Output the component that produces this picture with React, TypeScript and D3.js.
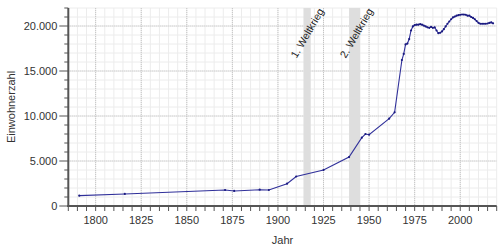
import React from "react";
import * as d3 from "d3";

const years: number[] = [
  1791, 1816, 1871, 1876, 1890, 1895, 1905, 1910, 1925, 1939, 1946, 1948, 1950,
  1961, 1964, 1968, 1969, 1970, 1971, 1972, 1973, 1974, 1975, 1976, 1977, 1978,
  1979, 1980, 1981, 1982, 1983, 1984, 1985, 1986, 1987, 1988, 1989, 1990, 1991,
  1992, 1993, 1994, 1995, 1996, 1997, 1998, 1999, 2000, 2001, 2002, 2003, 2004,
  2005, 2006, 2007, 2008, 2009, 2010, 2011, 2012, 2013, 2014, 2015, 2016, 2017,
  2018,
];
const population: number[] = [
  1150, 1340, 1780, 1670, 1810, 1780, 2480, 3280, 4000, 5440, 7590, 8000, 7920,
  9700, 10410, 16220, 16900, 17950, 18050, 18550, 19500, 19950, 20100, 20150,
  20150, 20200, 20150, 20050, 19950, 19850, 19800, 19900, 19800, 19850, 19500,
  19200, 19250, 19400, 19650, 19950, 20250, 20500, 20750, 20950, 21050, 21150,
  21200, 21250, 21280, 21270, 21250, 21150, 21150, 21000, 20900, 20750, 20550,
  20350, 20250, 20250, 20250, 20250, 20280, 20350, 20400, 20300,
];

const wars = [
  { label: "1. Weltkrieg", start: 1914, end: 1918 },
  { label: "2. Weltkrieg", start: 1939, end: 1945 },
];

const xMajorTicks = [1800, 1825, 1850, 1875, 1900, 1925, 1950, 1975, 2000];
const yMajorTicks = [0, 5000, 10000, 15000, 20000];

const W = 500;
const H = 250;
const left = 68.3;
const right = 496.7;
const top = 8;
const bottom = 206;

export default function App() {
  const x = d3.scaleLinear().domain([1785, 2020]).range([left, right]);
  const y = d3.scaleLinear().domain([0, 22000]).range([bottom, top]);
  const fmt = (v: number) => d3.format(",")(v).replace(/,/g, ".");

  const xMinor = d3.range(1785, 2021, 5);
  const yMinor = d3.range(0, 22001, 1000);

  const data = years.map((yr, i) => [yr, population[i]] as [number, number]);
  const line = d3
    .line<[number, number]>()
    .x((d) => x(d[0]))
    .y((d) => y(d[1]));

  const font = "'Liberation Sans', Arial, sans-serif";

  return (
    <svg
      width={W}
      height={H}
      style={{ position: "absolute", left: 0, top: 0, background: "#fff" }}
      fontFamily={font}
    >
      <rect x={0} y={0} width={W} height={H} fill="#fff" />
      {xMinor.map((t) => (
        <line key={"xm" + t} x1={x(t)} x2={x(t)} y1={top} y2={bottom} stroke="#ececec" strokeWidth={1} />
      ))}
      {yMinor.map((t) => (
        <line key={"ym" + t} x1={left} x2={right} y1={y(t)} y2={y(t)} stroke="#ececec" strokeWidth={1} />
      ))}
      {xMajorTicks.map((t) => (
        <line key={"xM" + t} x1={x(t)} x2={x(t)} y1={top} y2={bottom} stroke="#c4c4c4" strokeWidth={1} strokeDasharray="1,1" />
      ))}
      {yMajorTicks.filter((t) => t > 0).map((t) => (
        <line key={"yM" + t} x1={left} x2={right} y1={y(t)} y2={y(t)} stroke="#c4c4c4" strokeWidth={1} strokeDasharray="1,1" />
      ))}
      {wars.map((w) => (
        <rect key={w.label} x={x(w.start)} y={top} width={x(w.end) - x(w.start)} height={bottom - top} fill="#dedede" />
      ))}
      {wars.map((w) => (
        <text
          key={"t" + w.label}
          transform={`translate(${x(w.end) + 10},${top + 1}) rotate(-60)`}
          textAnchor="end"
          dominantBaseline="central"
          fontSize={10.5}
          fill="#222"
        >
          {w.label}
        </text>
      ))}
      <path d={line(data) || ""} fill="none" stroke="#30309a" strokeWidth={1.1} />
      {data.map((d, i) => (
        <circle key={"p" + i} cx={x(d[0])} cy={y(d[1])} r={1.1} fill="#1a1a80" />
      ))}
      <line x1={left} x2={left} y1={top} y2={bottom + 1} stroke="#555" strokeWidth={2} />
      <line x1={left - 1} x2={right} y1={bottom} y2={bottom} stroke="#555" strokeWidth={2} />
      {yMinor.map((t) => (
        <line key={"yt" + t} x1={left - (t % 5000 === 0 ? 9 : 4)} x2={left} y1={y(t)} y2={y(t)} stroke="#555" strokeWidth={1} />
      ))}
      {xMinor.map((t) => (
        <line key={"xt" + t} x1={x(t)} x2={x(t)} y1={bottom} y2={bottom + 5} stroke="#555" strokeWidth={1} />
      ))}
      {yMajorTicks.map((t) => (
        <text key={"yl" + t} x={left - 11} y={y(t)} textAnchor="end" dominantBaseline="central" fontSize={11} fill="#333">
          {fmt(t)}
        </text>
      ))}
      {xMajorTicks.map((t) => (
        <text key={"xl" + t} x={x(t)} y={224} textAnchor="middle" fontSize={11} fill="#333">
          {t}
        </text>
      ))}
      <text x={(left + right) / 2} y={244} textAnchor="middle" fontSize={11} fill="#333">
        Jahr
      </text>
      <text
        transform={`translate(15,${(top + bottom) / 2}) rotate(-90)`}
        textAnchor="middle"
        fontSize={11}
        fill="#333"
      >
        Einwohnerzahl
      </text>
    </svg>
  );
}
